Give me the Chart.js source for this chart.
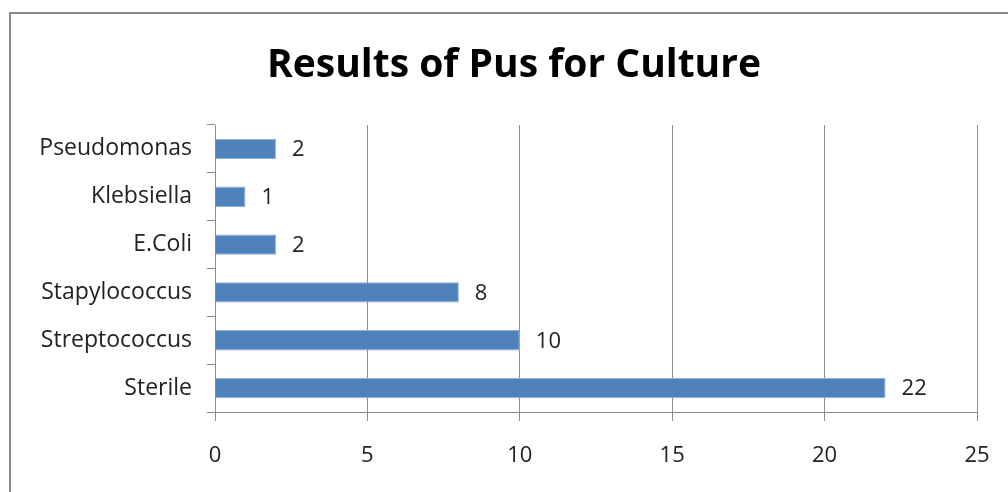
<!DOCTYPE html>
<html>
<head>
<meta charset="utf-8">
<script src="https://cdn.jsdelivr.net/npm/chart.js@4/dist/chart.umd.min.js"></script>
<style>
html,body{margin:0;padding:0;background:#fff;}
#wrap{width:1008px;height:492px;position:relative;}
</style>
</head>
<body>
<div id="wrap"><canvas id="c" width="1008" height="492"></canvas></div>
<script>
const titleText = 'Results of Pus for Culture';
const categories = ['Pseudomonas', 'Klebsiella', 'E.Coli', 'Stapylococcus', 'Streptococcus', 'Sterile'];
const counts = [2, 1, 2, 8, 10, 22];
const xTicks = [0, 5, 10, 15, 20, 25];

const FONT = '"Open Sans", Lato, sans-serif';

const framePlugin = {
  id: 'frame',
  beforeDraw(chart) {
    const ctx = chart.ctx;
    ctx.save();
    ctx.fillStyle = '#fff';
    ctx.fillRect(0, 0, chart.width, chart.height);
    ctx.strokeStyle = '#8a8a8a';
    ctx.lineWidth = 2;
    ctx.strokeRect(10, 13, chart.width + 20, chart.height + 20);
    ctx.restore();
  },
  afterDraw(chart) {
    const ctx = chart.ctx;
    ctx.save();
    ctx.font = 'bold 39px ' + FONT;
    ctx.fillStyle = '#000';
    ctx.textAlign = 'center';
    ctx.textBaseline = 'middle';
    ctx.fillText(titleText, 514, 66);
    ctx.restore();
  }
};

const valueLabels = {
  id: 'valueLabels',
  afterDatasetsDraw(chart) {
    const ctx = chart.ctx;
    const meta = chart.getDatasetMeta(0);
    ctx.save();
    ctx.font = '22px ' + FONT;
    ctx.fillStyle = '#222';
    ctx.textAlign = 'left';
    ctx.textBaseline = 'middle';
    meta.data.forEach((bar, i) => {
      ctx.fillText(String(chart.data.datasets[0].data[i]), bar.x + 16, bar.y + 1);
    });
    ctx.restore();
  }
};

new Chart(document.getElementById('c'), {
  type: 'bar',
  data: {
    labels: categories,
    datasets: [{
      data: counts,
      backgroundColor: '#4F81BD',
      borderColor: '#8fb0d9',
      borderWidth: 1,
      barPercentage: 0.85,
      categoryPercentage: 0.5
    }]
  },
  options: {
    indexAxis: 'y',
    responsive: false,
    animation: false,
    devicePixelRatio: 1,
    layout: { padding: { top: 125, left: 0, right: 31, bottom: 0 } },
    plugins: {
      legend: { display: false },
      tooltip: { enabled: false },
      title: { display: false }
    },
    scales: {
      x: {
        min: 0,
        max: 25,
        afterBuildTicks(scale) { scale.ticks = xTicks.map(v => ({ value: v })); },
        afterFit(scale) { scale.height = 80; scale.paddingRight = 0; scale.paddingLeft = 0; },
        grid: {
          color: '#8c8c8c',
          lineWidth: 1,
          tickLength: 9,
          drawOnChartArea: true
        },
        border: { color: '#8c8c8c', width: 1 },
        ticks: {
          color: '#222',
          font: { family: FONT, size: 22 },
          padding: 22,
          maxRotation: 0
        }
      },
      y: {
        afterFit(scale) { scale.width = 215; },
        grid: {
          offset: true,
          drawOnChartArea: false,
          color: '#8c8c8c',
          tickLength: 8
        },
        border: { color: '#8c8c8c', width: 1 },
        ticks: {
          color: '#222',
          font: { family: FONT, size: 23 },
          padding: 15
        }
      }
    }
  },
  plugins: [framePlugin, valueLabels]
});
</script>
</body>
</html>
